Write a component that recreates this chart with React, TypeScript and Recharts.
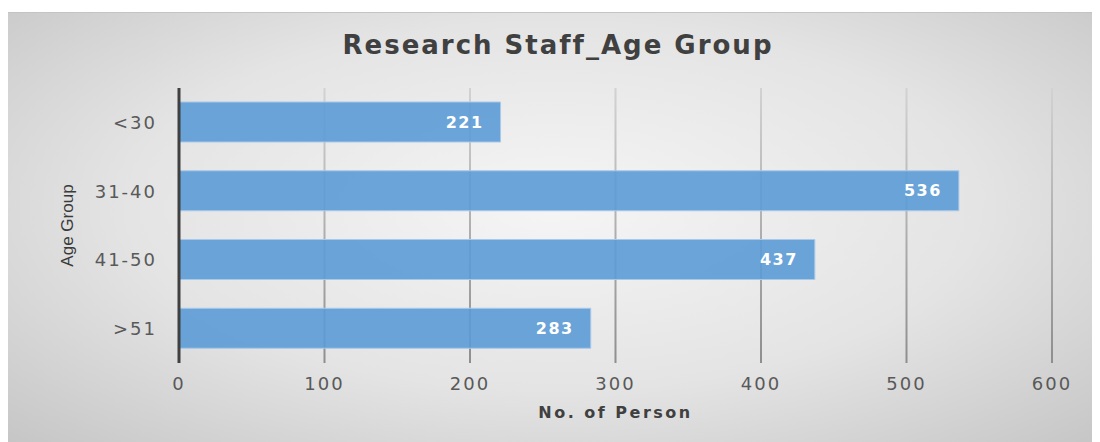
import React from 'react';
import { BarChart, Bar, XAxis, YAxis, CartesianGrid, LabelList, Label } from 'recharts';

// Research staff by age group
const ageGroups = ['<30', '31-40', '41-50', '>51'];
const staffCounts = [221, 536, 437, 283];
const xTicks = [0, 100, 200, 300, 400, 500, 600];

const data = ageGroups.map((g, i) => ({ group: g, count: staffCounts[i] }));

const FONT = '"DejaVu Sans", Verdana, sans-serif';

const AgeGroupTitle = (props: any) => {
  const { viewBox } = props;
  const cx = viewBox.x - 12;
  const cy = viewBox.y + viewBox.height / 2;
  return (
    <text
      x={cx}
      y={cy}
      transform={`rotate(-90, ${cx}, ${cy})`}
      textAnchor="middle"
      dominantBaseline="central"
      fill="#3a3a3a"
      style={{ fontFamily: '"Liberation Sans", Arial, sans-serif', fontSize: 17 }}
    >
      Age Group
    </text>
  );
};

export default function App() {
  return (
    <div style={{ paddingTop: 4 }}>
      <div
        style={{
          position: 'relative',
          width: 1092,
          height: 430,
          background: 'radial-gradient(ellipse at 50% 45%, #f5f5f5 0%, #e4e4e4 55%, #c6c6c6 100%)',
          borderTop: '1px solid #c4c4c4',
          boxSizing: 'border-box',
        }}
      >
        <div
          style={{
            position: 'absolute',
            top: 17,
            left: 0,
            width: 1092,
            paddingLeft: 8,
            boxSizing: 'border-box',
            textAlign: 'center',
            fontFamily: FONT,
            fontWeight: 'bold',
            fontSize: 26,
            letterSpacing: 2,
            color: '#404040',
          }}
        >
          Research Staff_Age Group
        </div>
        <BarChart
          width={1092}
          height={429}
          data={data}
          layout="vertical"
          margin={{ top: 75, right: 48, bottom: 19, left: 71 }}
          barSize={40}
          style={{ position: 'absolute', top: 0, left: 0 }}
        >
          <defs>
            <linearGradient id="gridGrad" gradientUnits="userSpaceOnUse" x1="0" y1="75" x2="0" y2="350">
              <stop offset="0%" stopColor="#d2d2d2" />
              <stop offset="100%" stopColor="#8e8e8e" />
            </linearGradient>
          </defs>
          <CartesianGrid horizontal={false} stroke="url(#gridGrad)" strokeWidth={2} />
          <XAxis
            type="number"
            domain={[0, 600]}
            ticks={xTicks}
            axisLine={false}
            tickLine={false}
            tickMargin={8}
            height={60}
            tick={{ fill: '#595959', fontSize: 18, fontFamily: FONT, letterSpacing: 2 }}
          >
            <Label
              value="No. of Person"
              position="insideBottom"
              offset={5}
              style={{ fill: '#404040', fontSize: 16, fontWeight: 'bold', fontFamily: FONT, letterSpacing: 2.5 }}
            />
          </XAxis>
          <YAxis
            type="category"
            dataKey="group"
            width={100}
            axisLine={{ stroke: '#404040', strokeWidth: 3 }}
            tickLine={false}
            tickMargin={16}
            tick={{ fill: '#595959', fontSize: 18, fontFamily: FONT, letterSpacing: 2 }}
          >
            <Label content={<AgeGroupTitle />} />
          </YAxis>
          <Bar
            dataKey="count"
            fill="#5b9bd5"
            fillOpacity={0.9}
            stroke="#a9c9ea"
            strokeWidth={1}
            isAnimationActive={false}
          >
            <LabelList
              dataKey="count"
              position="insideRight"
              offset={17}
              style={{ fill: '#ffffff', fontSize: 16, fontWeight: 'bold', fontFamily: FONT, letterSpacing: 1.5 }}
            />
          </Bar>
        </BarChart>
      </div>
    </div>
  );
}
